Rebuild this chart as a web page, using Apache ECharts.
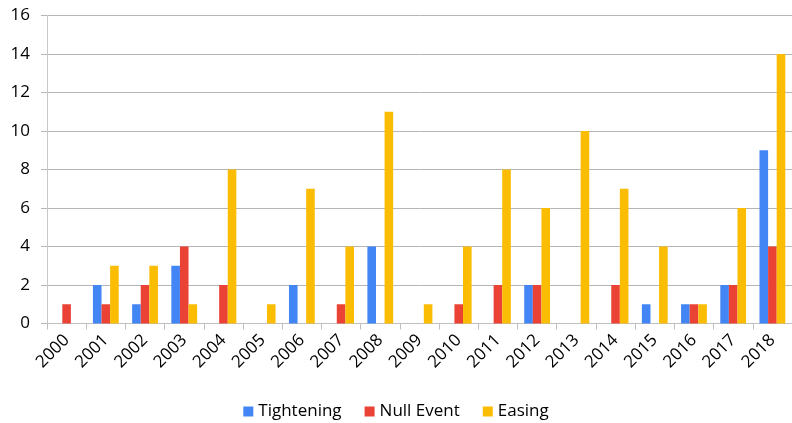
<!DOCTYPE html>
<html>
<head>
<meta charset="utf-8">
<script src="https://cdn.jsdelivr.net/npm/echarts@6/dist/echarts.min.js"></script>
<style>
  html, body { margin: 0; padding: 0; background: #fff; }
  #chart { width: 792px; height: 423px; }
</style>
</head>
<body>
<div id="chart"></div>
<script>
// Annual counts of policy events by type
const years = ['2000','2001','2002','2003','2004','2005','2006','2007','2008','2009',
               '2010','2011','2012','2013','2014','2015','2016','2017','2018'];
const tightening = [0, 2, 1, 3, 0, 0, 2, 0, 4, 0, 0, 0, 2, 0, 0, 1, 1, 2, 9];
const nullEvent  = [1, 1, 2, 4, 2, 0, 0, 1, 0, 0, 1, 2, 2, 0, 2, 0, 1, 2, 4];
const easing     = [0, 3, 3, 1, 8, 1, 7, 4, 11, 1, 4, 8, 6, 10, 7, 4, 1, 6, 14];
const yTicks = { min: 0, max: 16, step: 2 };

const FONT = '"Open Sans", "Liberation Sans", sans-serif';
const chart = echarts.init(document.getElementById('chart'), null, { renderer: 'canvas' });

function bar(name, data, color) {
  return {
    name, type: 'bar', data,
    barWidth: 8.6,
    barGap: '0%',
    itemStyle: { color },
    emphasis: { disabled: true }
  };
}

chart.setOption({
  animation: false,
  grid: { left: 47, right: 0, top: 15.5, bottom: 99.5 },
  legend: {
    top: 398,
    left: 'center',
    itemWidth: 10, itemHeight: 10,
    itemGap: 23,
    icon: 'rect',
    textStyle: { fontFamily: FONT, fontSize: 17, color: '#000' },
    data: ['Tightening', 'Null Event', 'Easing']
  },
  xAxis: {
    type: 'category',
    data: years,
    axisLine: { show: true, lineStyle: { color: '#bfbfbf', width: 1 } },
    axisTick: { show: true, alignWithLabel: false, length: 6, lineStyle: { color: '#bfbfbf' } },
    axisLabel: {
      rotate: 45, interval: 0, margin: 14,
      fontFamily: FONT, fontSize: 17, color: '#000'
    }
  },
  yAxis: {
    type: 'value',
    min: yTicks.min, max: yTicks.max, interval: yTicks.step,
    axisLine: { show: true, lineStyle: { color: '#c8c8c8', width: 1 } },
    axisTick: { show: true, length: 6, lineStyle: { color: '#b5b5b5' } },
    splitLine: { lineStyle: { color: '#b5b5b5', width: 1 } },
    axisLabel: { fontFamily: FONT, fontSize: 17, color: '#000', margin: 17 }
  },
  series: [
    bar('Tightening', tightening, '#4285F4'),
    bar('Null Event', nullEvent, '#EA4335'),
    bar('Easing', easing, '#FBBC04')
  ]
});
</script>
</body>
</html>
